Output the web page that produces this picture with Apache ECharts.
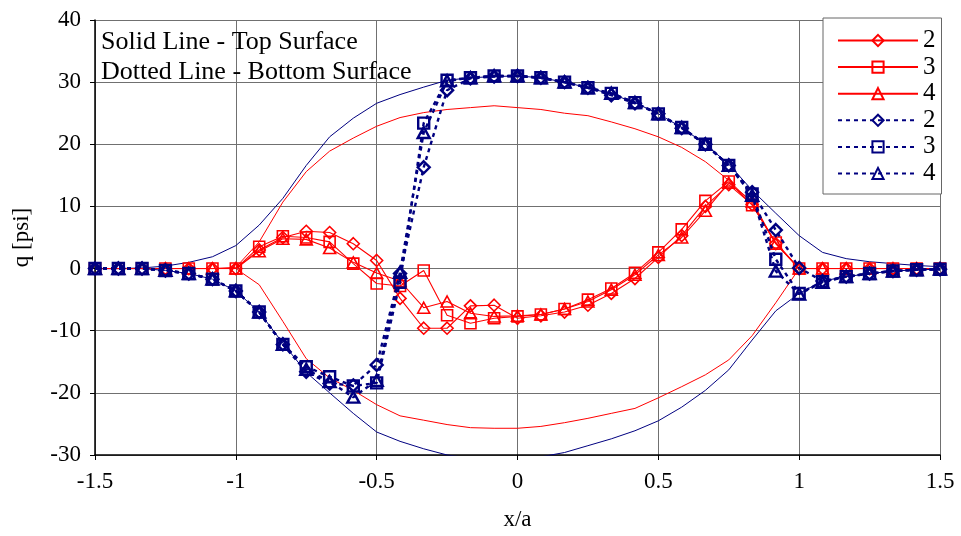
<!DOCTYPE html>
<html>
<head>
<meta charset="utf-8">
<script src="https://cdn.jsdelivr.net/npm/echarts@6/dist/echarts.min.js"></script>
<style>html,body{margin:0;padding:0;background:#fff;}#c{width:961px;height:536px;}</style>
</head>
<body>
<div id="c"></div>
<script>
// x/a positions
const xVals = [-1.5,-1.417,-1.333,-1.25,-1.167,-1.083,-1,-0.917,-0.833,-0.75,-0.667,-0.583,-0.5,-0.417,-0.333,-0.25,-0.167,-0.083,0,0.083,0.167,0.25,0.333,0.417,0.5,0.583,0.667,0.75,0.833,0.917,1,1.083,1.167,1.25,1.333,1.417,1.5];

// Top surface (solid red, markers)
const top2 = [0,0,0,0,0,0,0,3.0,5.0,6.0,5.8,4.0,1.3,-4.8,-9.6,-9.6,-6.0,-5.9,-8.0,-7.6,-7.0,-5.9,-4.0,-1.6,1.8,5.3,10.0,13.5,10.3,4.0,0,0,0,0,0,0,0];
const top3 = [0,0,0,0,0,0,0,3.5,5.2,5.0,4.3,0.8,-2.4,-2.8,-0.3,-7.5,-8.8,-8.0,-7.7,-7.4,-6.5,-5.0,-3.2,-0.7,2.6,6.3,10.9,14.0,10.2,4.2,0,0,0,0,0,0,0];
const top4 = [0,0,0,0,0,0,0,2.8,4.8,4.7,3.3,1.0,-0.7,-2.0,-6.3,-5.3,-7.2,-7.7,-7.6,-7.4,-6.5,-5.3,-3.4,-1.0,2.2,5.0,9.3,13.8,10.8,4.0,0,0,0,0,0,0,0];

// Bottom surface (dotted navy, markers)
const bot2 = [0,0,0,-0.3,-0.8,-1.7,-3.6,-7.0,-12.2,-16.6,-18.5,-18.8,-15.5,-0.8,16.3,28.7,30.6,30.9,31.0,30.7,30.0,29.1,27.9,26.6,24.9,22.6,20.0,16.6,12.3,6.2,0.1,-2.0,-1.3,-0.8,-0.4,-0.2,-0.1];
const bot3 = [0,0,0,-0.3,-0.8,-1.7,-3.6,-7.0,-12.2,-15.8,-17.4,-18.9,-18.4,-2.2,23.4,30.3,30.7,31.0,31.0,30.7,30.0,29.1,28.2,26.7,24.9,22.7,20.0,16.6,12.0,1.5,-4.0,-2.1,-1.3,-0.8,-0.4,-0.2,-0.1];
const bot4 = [0,0,0,-0.3,-0.8,-1.7,-3.6,-7.0,-12.2,-16.2,-18.2,-20.7,-18.0,-0.6,21.9,30.2,30.7,31.0,31.0,30.7,30.0,29.1,28.2,26.7,24.9,22.7,20.0,16.6,11.8,-0.4,-4.1,-2.2,-1.3,-0.8,-0.4,-0.2,-0.1];

// Thin reference curves (no markers)
const navyUpper = [0,0,0.1,0.4,1.0,1.9,3.7,7.0,11.3,16.6,21.2,24.2,26.6,28.0,29.2,30.3,30.7,30.9,31.0,30.7,30.0,29.1,28.1,26.7,24.9,22.7,20.0,16.8,12.6,8.9,5.3,2.6,1.6,1.1,0.8,0.5,0.3];
const navyLower = [0,0,0,-0.3,-0.8,-1.7,-3.6,-7.0,-12.0,-16.7,-20.0,-23.3,-26.3,-27.8,-29.0,-30.0,-30.5,-30.6,-30.6,-30.3,-29.6,-28.5,-27.4,-26.1,-24.5,-22.3,-19.6,-16.3,-11.5,-6.8,-4.0,-2.0,-1.3,-0.8,-0.4,-0.2,-0.1];
const redUpper = [0,0,0,0,0,0,0.2,4.3,10.7,15.6,18.9,21.0,22.9,24.3,25.1,25.6,25.9,26.2,25.9,25.6,25.0,24.6,23.6,22.5,21.2,19.5,17.2,14.2,10.5,4.0,0,0,0,0,0,0,0];
const redLower = [0,0,0,0,0,0,0,-2.6,-8.5,-14.5,-17.6,-19.6,-21.9,-23.7,-24.4,-25.1,-25.6,-25.7,-25.7,-25.4,-24.8,-24.1,-23.3,-22.5,-20.8,-19.0,-17.1,-14.7,-10.8,-5.5,0,0,0,0,0,0,0];

const legendNames = ['r2','r3','r4','b2','b3','b4'];
const noteLines = ['Solid Line - Top Surface','Dotted Line - Bottom Surface'];

const RED = '#FF0000', NAVY = '#000080';
const FONT = '"Liberation Serif", "DejaVu Serif", serif';
const DIAMOND = 'path://M0,-1L1,0L0,1L-1,0Z';
const pts = arr => xVals.map((x, i) => [x, arr[i]]);

function thin(arr, color) {
  return { type: 'line', data: pts(arr), showSymbol: false, symbol: 'none', silent: true,
    lineStyle: { color: color, width: 1 }, itemStyle: { color: color }, z: 2 };
}
function marked(name, arr, color, symbol, size, dotted) {
  return { name: name, type: 'line', data: pts(arr), symbol: symbol, symbolSize: size,
    showSymbol: true, silent: true,
    lineStyle: dotted ? { color: color, width: 2.4, type: [4, 4] } : { color: color, width: 1.1 },
    itemStyle: { color: 'rgba(255,255,255,0)', borderColor: color, borderWidth: dotted ? 2.4 : 1.6 },
    z: dotted ? 4 : 3 };
}

const chart = echarts.init(document.getElementById('c'), null, { renderer: 'canvas' });
chart.setOption({
  animation: false,
  backgroundColor: '#fff',
  grid: { left: 95, right: 21, top: 20, bottom: 79, containLabel: false },
  xAxis: {
    type: 'value', min: -1.5, max: 1.5, interval: 0.5,
    name: 'x/a', nameLocation: 'middle', nameGap: 53,
    nameTextStyle: { fontFamily: FONT, fontSize: 23, color: '#000' },
    axisLine: { show: true, onZero: false, lineStyle: { color: '#000', width: 1.5 } },
    axisTick: { show: true, inside: false, length: 5, lineStyle: { color: '#000' } },
    axisLabel: { fontFamily: FONT, fontSize: 23, color: '#000', margin: 15 },
    splitLine: { show: true, lineStyle: { color: '#707070', width: 1 } }
  },
  yAxis: {
    type: 'value', min: -30, max: 40, interval: 10,
    name: 'q [psi]', nameLocation: 'middle', nameGap: 62, nameRotate: 90,
    nameTextStyle: { fontFamily: FONT, fontSize: 23, color: '#000' },
    axisLine: { show: true, onZero: false, lineStyle: { color: '#000', width: 1.5 } },
    axisTick: { show: true, inside: false, length: 5, lineStyle: { color: '#000' } },
    axisLabel: { fontFamily: FONT, fontSize: 23, color: '#000', margin: 14 },
    splitLine: { show: true, lineStyle: { color: '#707070', width: 1 } }
  },
  legend: {
    data: legendNames, orient: 'vertical', left: 823, top: 18,
    padding: [10, 6, 8, 14], itemWidth: 80, itemHeight: 14, itemGap: 1.6,
    backgroundColor: '#fff', borderColor: '#666', borderWidth: 1,
    formatter: n => n.slice(1),
    textStyle: { fontFamily: FONT, fontSize: 25, color: '#000', lineHeight: 22 },
    selectedMode: false, z: 10
  },
  graphic: noteLines.map((t, i) => ({
    type: 'text', left: 101, top: 29 + i * 30, z: 20,
    style: { text: t, fontFamily: FONT, fontSize: 26, fill: '#000' }
  })),
  series: [
    thin(redUpper, RED), thin(redLower, RED), thin(navyUpper, NAVY), thin(navyLower, NAVY),
    marked('r2', top2, RED, DIAMOND, [12, 12], false),
    marked('r3', top3, RED, 'rect', [11, 11], false),
    marked('r4', top4, RED, 'triangle', [12, 11], false),
    marked('b2', bot2, NAVY, DIAMOND, [12, 12], true),
    marked('b3', bot3, NAVY, 'rect', [11, 11], true),
    marked('b4', bot4, NAVY, 'triangle', [12, 11], true)
  ]
});
</script>
</body>
</html>
